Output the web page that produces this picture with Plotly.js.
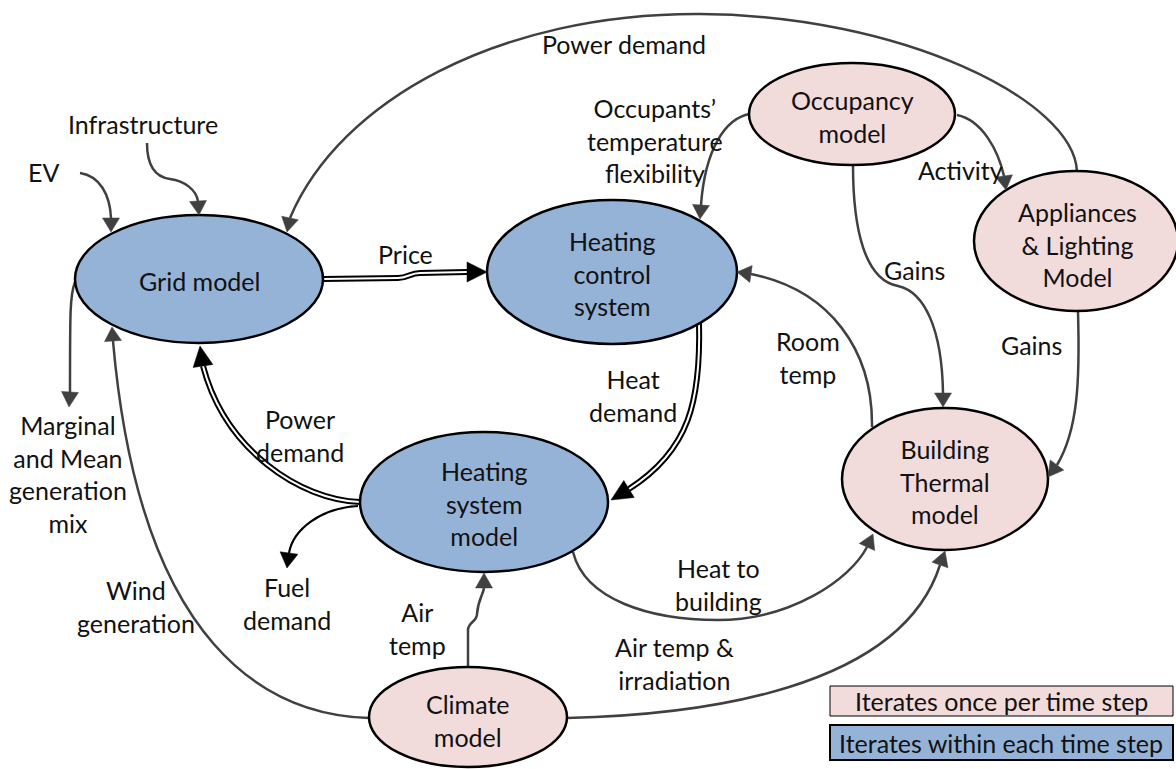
<!DOCTYPE html>
<html><head><meta charset="utf-8">
<script src="https://cdn.plot.ly/plotly-3.0.1.min.js"></script>
<style>html,body{margin:0;padding:0;background:#fff}#chart{width:1176px;height:769px}</style>
</head><body><div id="chart"></div>
<script>
// ---------------- DATA ----------------
const models = ["Grid model", "Heating control system", "Heating system model", "Occupancy model",
                "Appliances & Lighting Model", "Building Thermal model", "Climate model"];
const modelText = ["Grid model", "Heating<br>control<br>system", "Heating<br>system<br>model", "Occupancy<br>model",
                   "Appliances<br>& Lighting<br>Model", "Building<br>Thermal<br>model", "Climate<br>model"];
const modelIteration = ["within", "within", "within", "once", "once", "once", "once"];

const flowSources = ["EV", "Infrastructure", "Appliances & Lighting Model", "Occupancy model", "Occupancy model",
                     "Occupancy model", "Appliances & Lighting Model", "Building Thermal model", "Heating control system",
                     "Heating system model", "Grid model", "Heating system model", "Grid model", "Climate model",
                     "Climate model", "Heating system model", "Climate model"];
const flowTargets = ["Grid model", "Grid model", "Grid model", "Heating control system", "Appliances & Lighting Model",
                     "Building Thermal model", "Building Thermal model", "Heating control system", "Heating system model",
                     "Grid model", "Heating control system", "Fuel demand", "Marginal and Mean generation mix", "Grid model",
                     "Heating system model", "Building Thermal model", "Building Thermal model"];
const flowLabels = ["EV", "Infrastructure", "Power demand", "Occupants’<br>temperature<br>flexibility", "Activity",
                    "Gains", "Gains", "Room<br>temp", "Heat<br>demand", "Power<br>demand", "Price", "Fuel<br>demand",
                    "Marginal<br>and Mean<br>generation<br>mix", "Wind<br>generation", "Air<br>temp", "Heat to<br>building",
                    "Air temp &<br>irradiation"];
const flowKind = ["signal", "signal", "signal", "signal", "signal", "signal", "signal", "signal", "coupled",
                  "coupled", "coupled", "output", "signal", "signal", "signal", "signal", "signal"];

const legendLabels = ["Iterates once per time step", "Iterates within each time step"];
const legendGroups = ["once", "within"];

// ---------------- GEOMETRY / STYLE ----------------
const nodeGeom = {
  "Grid model": [199, 279, 124, 64],
  "Heating control system": [612, 272, 125, 72],
  "Heating system model": [484, 502, 124, 70],
  "Occupancy model": [852, 114, 103, 51],
  "Appliances & Lighting Model": [1076, 241, 102, 70],
  "Building Thermal model": [945, 479, 103, 71],
  "Climate model": [468, 717, 99, 50]
};
const nodeTextPos = {
  "Grid model": [199, 281], "Heating control system": [612, 273], "Heating system model": [484, 503],
  "Occupancy model": [852, 116], "Appliances & Lighting Model": [1077, 244],
  "Building Thermal model": [945, 481], "Climate model": [468, 720]
};
const fills = {once: "#F2DCDB", within: "#95B3D7"};

// path (ending at arrowhead base), arrow tip, label position
const edgeGeom = [
  ["M 80 173 C 100 176, 110 195, 111 218", [111, 232], [43, 172]],
  ["M 147 143 C 147 165, 155 177, 170 179 C 185 181, 196 190, 198 201", [199, 215], [143, 124]],
  ["M 1077 172 C 1075 100, 900 15, 700 14 C 500 13, 340 100, 290 218", [287, 232], [624, 44]],
  ["M 750 114 C 725 118, 705 150, 701 205", [700, 219], [655, 140]],
  ["M 957 115 C 982 120, 998 150, 1004 176", [1006, 190], [960, 170]],
  ["M 853 165 C 853 230, 865 280, 898 286 C 925 292, 942 330, 943 393", [943, 407], [914, 270]],
  ["M 1078 312 C 1080 380, 1078 430, 1057 465", [1048, 477], [1031, 345]],
  ["M 872 427 C 873 350, 830 290, 751 274", [737, 272], [808, 357]],
  ["M 699 322 C 701 400, 690 450, 629 489", [611, 500], [633, 395]],
  ["M 360 502 C 300 500, 225 450, 203 366", [200, 346], [300, 435]],
  ["M 323 279 L 398 278 C 408 278, 410 273, 420 273 L 467 272", [487, 272], [405, 254]],
  ["M 358 506 C 320 508, 293 530, 289 553", [287, 568], [287, 603]],
  ["M 75 282 C 70 295, 70 310, 70 392", [69, 407], [68, 474]],
  ["M 369 718 C 270 715, 140 650, 113 341", [112, 327], [136, 606]],
  ["M 468 667 L 468 630 C 468 622, 477 622, 477 614 C 478 600, 483 595, 484 588", [484, 573], [417, 628]],
  ["M 573 552 C 585 600, 650 620, 718 620 C 790 620, 850 580, 867 547", [873, 534], [718, 584]],
  ["M 567 718 C 700 715, 900 690, 940 565", [945, 551], [674, 663]]
];
const legendGeom = [[830, 686, 1173, 716, 1, 1001, 701], [830, 725, 1173, 760, 2, 1001, 743]];

const FONT = "Lato, 'Open Sans', sans-serif";
const FS = 25;
const GRAY = "#404040";

function head(tip, base, hw) {
  const dx = tip[0] - base[0], dy = tip[1] - base[1];
  const L = Math.hypot(dx, dy);
  const nx = -dy / L, ny = dx / L;
  return `M ${tip[0]} ${tip[1]} L ${base[0] + nx * hw} ${base[1] + ny * hw} L ${base[0] - nx * hw} ${base[1] - ny * hw} Z`;
}
function lastPoint(p) {
  const nums = p.replace(/[MLC,]/g, " ").trim().split(/\s+/).map(Number);
  return [nums[nums.length - 2], nums[nums.length - 1]];
}

const shapes = [];
const annotations = [];

// edges (lines first, under ellipses)
flowLabels.forEach((lab, i) => {
  const [p, tip] = edgeGeom[i];
  const kind = flowKind[i];
  if (kind === "coupled") {
    shapes.push({type: "path", xref: "x", yref: "y", path: p, line: {color: "#000", width: 6}});
    shapes.push({type: "path", xref: "x", yref: "y", path: p, line: {color: "#fff", width: 2}});
  } else {
    shapes.push({type: "path", xref: "x", yref: "y", path: p,
      line: {color: kind === "output" ? "#000" : GRAY, width: kind === "output" ? 2.2 : 2.5}});
  }
});

// nodes
models.forEach((m, i) => {
  const [cx, cy, rx, ry] = nodeGeom[m];
  shapes.push({type: "circle", xref: "x", yref: "y", x0: cx - rx, x1: cx + rx, y0: cy - ry, y1: cy + ry,
    fillcolor: fills[modelIteration[i]], line: {color: "#000", width: 2.5}});
  const [tx, ty] = nodeTextPos[m];
  annotations.push({x: tx, y: ty, xref: "x", yref: "y", text: modelText[i], showarrow: false,
    font: {family: FONT, size: FS, color: "#111"}, align: "center", xanchor: "center", yanchor: "middle"});
});

// arrowheads + labels
flowLabels.forEach((lab, i) => {
  const [p, tip, lp] = edgeGeom[i];
  const kind = flowKind[i];
  const base = lastPoint(p);
  const hw = kind === "coupled" ? 10 : (kind === "output" ? 9 : 8.5);
  const col = kind === "signal" ? GRAY : "#000";
  shapes.push({type: "path", xref: "x", yref: "y", path: head(tip, base, hw), fillcolor: col,
    line: {color: col, width: 0.5}});
  annotations.push({x: lp[0], y: lp[1], xref: "x", yref: "y", text: lab, showarrow: false,
    font: {family: FONT, size: FS, color: "#111"}, align: "center", xanchor: "center", yanchor: "middle"});
});

// legend boxes
legendLabels.forEach((lab, i) => {
  const [x0, y0, x1, y1, w, tx, ty] = legendGeom[i];
  shapes.push({type: "rect", xref: "x", yref: "y", x0, y0, x1, y1, fillcolor: fills[legendGroups[i]],
    line: {color: "#000", width: w}});
  annotations.push({x: tx, y: ty, xref: "x", yref: "y", text: lab, showarrow: false,
    font: {family: FONT, size: FS, color: "#111"}, xanchor: "center", yanchor: "middle"});
});

const trace = {
  x: models.map(m => nodeGeom[m][0]), y: models.map(m => nodeGeom[m][1]), text: models,
  mode: "markers", marker: {opacity: 0, size: 1}, hoverinfo: "skip", showlegend: false, type: "scatter"
};

Plotly.newPlot("chart", [trace], {
  width: 1176, height: 769, margin: {l: 0, r: 0, t: 0, b: 0, pad: 0},
  paper_bgcolor: "#fff", plot_bgcolor: "#fff",
  xaxis: {range: [0, 1176], visible: false, fixedrange: true},
  yaxis: {range: [769, 0], visible: false, fixedrange: true},
  shapes, annotations, showlegend: false
}, {staticPlot: true});
</script></body></html>
